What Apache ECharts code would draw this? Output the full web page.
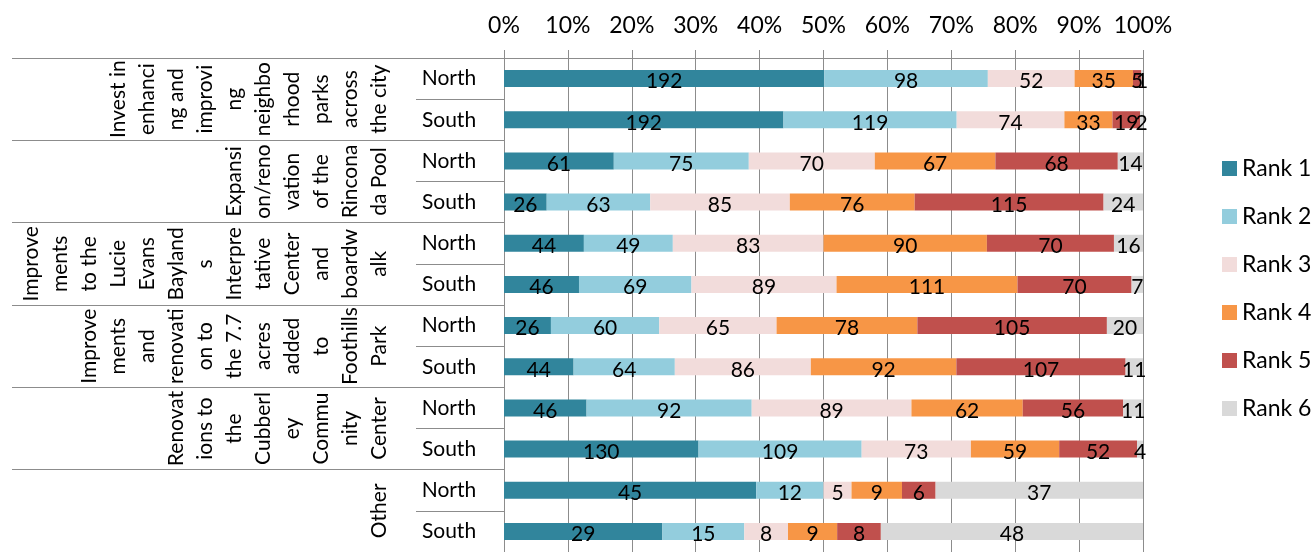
<!DOCTYPE html>
<html><head><meta charset="utf-8">
<script src="https://cdn.jsdelivr.net/npm/echarts@6/dist/echarts.min.js"></script>
<style>html,body{margin:0;padding:0;background:#fff}#c{width:1313px;height:552px}</style>
</head><body><div id="c"></div>
<script>
// Row (bar) labels, top to bottom
const rowLabels = ['North','South','North','South','North','South','North','South','North','South','North','South'];
// Group labels (wrapped as in the original)
const groupLabels = [
  'Invest in\nenhanci\nng and\nimprovi\nng\nneighbo\nrhood\nparks\nacross\nthe city',
  'Expansi\non/reno\nvation\nof the\nRincona\nda Pool',
  'Improve\nments\nto the\nLucie\nEvans\nBayland\ns\nInterpre\ntative\nCenter\nand\nboardw\nalk',
  'Improve\nments\nand\nrenovati\non to\nthe 7.7\nacres\nadded\nto\nFoothills\nPark',
  'Renovat\nions to\nthe\nCubberl\ney\nCommu\nnity\nCenter',
  'Other'
];
const seriesNames = ['Rank 1','Rank 2','Rank 3','Rank 4','Rank 5','Rank 6'];
const rank1 = [192,192,61,26,44,46,26,44,46,130,45,29];
const rank2 = [98,119,75,63,49,69,60,64,92,109,12,15];
const rank3 = [52,74,70,85,83,89,65,86,89,73,5,8];
const rank4 = [35,33,67,76,90,111,78,92,62,59,9,9];
const rank5 = [5,19,68,115,70,70,105,107,56,52,6,8];
const rank6 = [1,2,14,24,16,7,20,11,11,4,37,48];
const colors = ['#31859C','#93CDDD','#F2DCDB','#F79646','#C0504D','#D9D9D9'];

const ranks = [rank1,rank2,rank3,rank4,rank5,rank6];
const totals = rowLabels.map((_,i)=>ranks.reduce((s,r)=>s+r[i],0));
const FONT = 'Lato, Carlito, Calibri, sans-serif';
const GRAY = '#8c8c8c';

const series = ranks.map((vals,k)=>({
  name: seriesNames[k],
  type: 'bar',
  stack: 'all',
  barWidth: 17,
  itemStyle: {color: colors[k]},
  label: {
    show: true, position: 'inside', color: '#000',
    fontFamily: FONT, fontSize: 21, offset: [0,3],
    formatter: p => String(vals[p.dataIndex])
  },
  data: vals.map((v,i)=> v / totals[i] * 100)
}));

const chart = echarts.init(document.getElementById('c'), null, {renderer:'canvas'});
chart.setOption({
  backgroundColor: '#fff',
  animation: false,
  textStyle: {fontFamily: FONT},
  legend: {
    orient: 'vertical', left: 1217, top: 152,
    itemWidth: 15, itemHeight: 15, itemGap: 25,
    icon: 'rect',
    textStyle: {fontFamily: FONT, fontSize: 23, color: '#000'},
    data: seriesNames
  },
  grid: {left: 504, right: 170, top: 58, bottom: -4, containLabel: false},
  xAxis: {
    type: 'value', position: 'top', min: 0, max: 100, interval: 10,
    axisLine: {show: true, lineStyle: {color: GRAY}},
    axisTick: {show: true, length: 8, lineStyle: {color: GRAY}},
    splitLine: {show: true, lineStyle: {color: GRAY}},
    axisLabel: {formatter: '{value}%', color: '#000', fontFamily: FONT, fontSize: 23, margin: 21}
  },
  yAxis: [
    {
      type: 'category', data: rowLabels, inverse: true, position: 'left',
      axisLine: {show: true, lineStyle: {color: GRAY}},
      axisTick: {show: true, length: 88, interval: 0, lineStyle: {color: GRAY}},
      axisLabel: {color: '#000', fontFamily: FONT, fontSize: 21, interval: 0, align: 'center', margin: 55}
    },
    {
      type: 'category', data: groupLabels, inverse: true, position: 'left', offset: 0,
      axisLine: {show: false},
      axisTick: {show: true, length: 492, interval: 0, lineStyle: {color: GRAY}},
      axisLabel: {color: '#000', fontFamily: FONT, fontSize: 21, lineHeight: 29, rotate: 90, interval: 0, margin: 110}
    }
  ],
  series: series
});
</script></body></html>
